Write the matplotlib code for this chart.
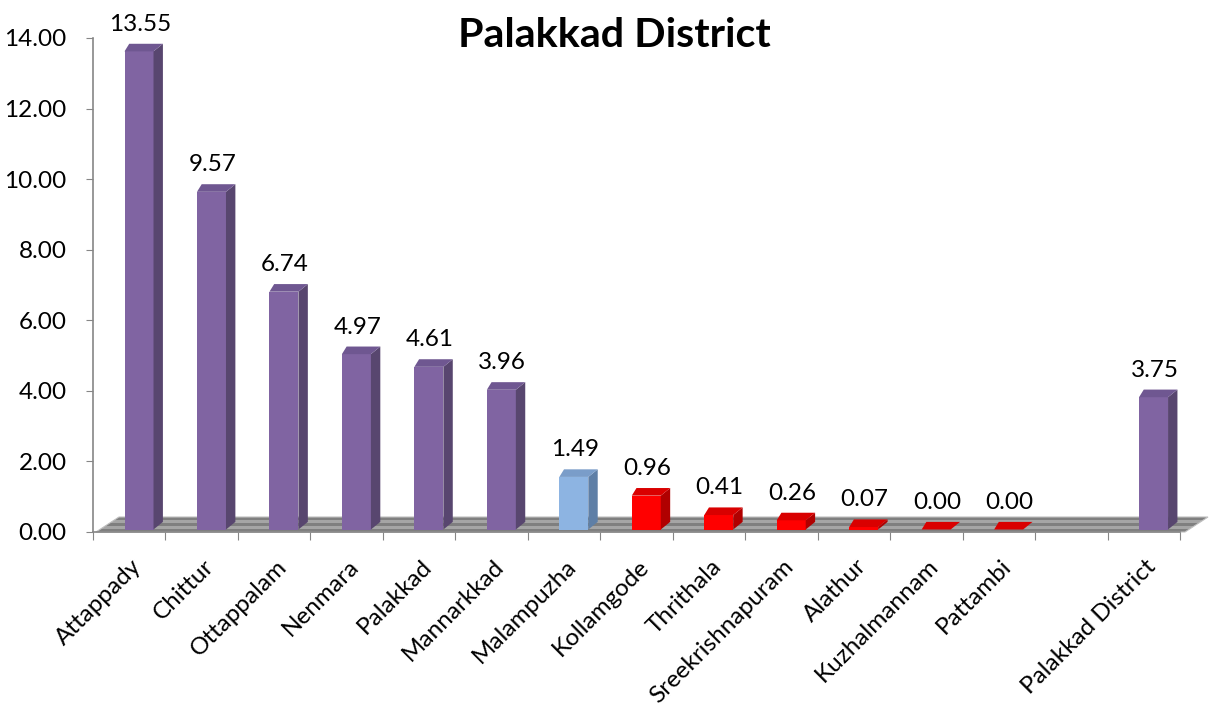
import numpy as np
import matplotlib
matplotlib.use("Agg")
import matplotlib.pyplot as plt
from matplotlib.patches import Polygon
from matplotlib.transforms import ScaledTranslation

# ---------------- data ----------------
categories = ["Attappady", "Chittur", "Ottappalam", "Nenmara", "Palakkad",
              "Mannarkkad", "Malampuzha", "Kollamgode", "Thrithala",
              "Sreekrishnapuram", "Alathur", "Kuzhalmannam", "Pattambi",
              "", "Palakkad District"]
values = [13.55, 9.57, 6.74, 4.97, 4.61, 3.96, 1.49, 0.96, 0.41, 0.26,
          0.07, 0.00, 0.00, None, 3.75]
groups = ["high", "high", "high", "high", "high", "high", "mid", "low",
          "low", "low", "low", "low", "low", None, "high"]
y_ticks = [0, 2, 4, 6, 8, 10, 12, 14]
title = "Palakkad District"

# face colours: front, top, side
colors = {
    "high": ("#8064A2", "#6F5791", "#58466F"),
    "mid": ("#8DB4E2", "#7A9DC9", "#5F7FA6"),
    "low": ("#FF0000", "#D90000", "#B00000"),
}

plt.rcParams["font.family"] = ["Lato", "DejaVu Sans"]

W, H = 1210, 710
fig = plt.figure(figsize=(W / 100, H / 100), dpi=100)
ax = fig.add_axes([93 / W, (H - 532) / H, 1087 / W, 494 / H])
n = len(categories)
ax.set_xlim(0, n)
ax.set_ylim(0, 14)

# pixel -> data conversion factors
ppx = ax.get_position().width * W / n
ppy = ax.get_position().height * H / 14.0

# 3-D geometry (in pixels)
bar_dx, bar_dy = 9.4, 7.6           # bar depth
floor_dx, floor_dy = 23.0, 15.0     # floor depth
front_left, front_w = 0.435, 0.40   # fraction of slot

bdx, bdy = bar_dx / ppx, bar_dy / ppy
fdx, fdy = floor_dx / ppx, floor_dy / ppy

# ---- floor (striped) ----
nstripes = 5
stripe_cols = ["#7F7F7F", "#A5A5A5"]
x_a, x_b = 3 / ppx, n + 5 / ppx
for k in range(nstripes):
    t0, t1 = k / nstripes, (k + 1) / nstripes
    poly = [(x_a + fdx * t0, fdy * t0), (x_b + fdx * t0, fdy * t0),
            (x_b + fdx * t1, fdy * t1), (x_a + fdx * t1, fdy * t1)]
    ax.add_patch(Polygon(poly, closed=True, facecolor=stripe_cols[k % 2],
                         edgecolor="none", clip_on=False, zorder=1))
ax.add_patch(Polygon([(x_a, 0), (x_b, 0), (x_b + fdx, fdy), (x_a + fdx, fdy)],
                     closed=True, facecolor="none", edgecolor="#BFBFBF",
                     linewidth=0.8, clip_on=False, zorder=1.1))

# ---- bars ----
for i, (v, g) in enumerate(zip(values, groups)):
    if v is None:
        continue
    fc, tc, sc = colors[g]
    x0 = i + front_left
    x1 = x0 + front_w
    y0 = 2.5 / ppy
    y1 = y0 + v
    # front
    ax.add_patch(Polygon([(x0, y0), (x1, y0), (x1, y1), (x0, y1)],
                         closed=True, facecolor=fc, edgecolor="none",
                         clip_on=False, zorder=3))
    # side
    ax.add_patch(Polygon([(x1, y0), (x1 + bdx, y0 + bdy), (x1 + bdx, y1 + bdy),
                          (x1, y1)], closed=True, facecolor=sc,
                         edgecolor="none", clip_on=False, zorder=3))
    # top
    ax.add_patch(Polygon([(x0, y1), (x1, y1), (x1 + bdx, y1 + bdy),
                          (x0 + bdx * 0.5, y1 + bdy)], closed=True,
                         facecolor=tc, edgecolor="none", clip_on=False,
                         zorder=3))
    # value label
    ax.annotate(f"{v:.2f}", xy=((x0 + x1) / 2, y1 + bdy),
                xytext=(1, 13), textcoords="offset pixels",
                ha="center", va="baseline", fontsize=17.5,
                color="black", zorder=5, annotation_clip=False)

# ---- axes styling ----
for s in ["top", "right"]:
    ax.spines[s].set_visible(False)
ax.spines["left"].set_color("#868686")
ax.spines["bottom"].set_color("#868686")
ax.spines["left"].set_linewidth(1.2)
ax.spines["bottom"].set_linewidth(1.2)
ax.set_yticks(y_ticks)
ax.set_yticklabels([f"{t:.2f}" for t in y_ticks], fontsize=17.5)
ax.tick_params(axis="y", direction="out", length=5, color="#868686",
               pad=14)
ax.set_xticks(np.arange(0, n + 1))
ax.set_xticklabels([])
ax.tick_params(axis="x", direction="out", length=6, color="#868686")
ax.patch.set_alpha(0)

# category labels
for i, c in enumerate(categories):
    if not c:
        continue
    ax.text(i + 0.5, 0, c, rotation=45, rotation_mode="anchor",
            ha="right", va="center", fontsize=17.5,
            transform=ax.transData + ScaledTranslation(9 / 100, -31 / 100, fig.dpi_scale_trans),
            clip_on=False)

fig.text(614 / W, 1 - 47 / H, title, ha="center", va="baseline",
         fontsize=29.7, fontweight="bold")

fig.savefig("out.png", dpi=100)
